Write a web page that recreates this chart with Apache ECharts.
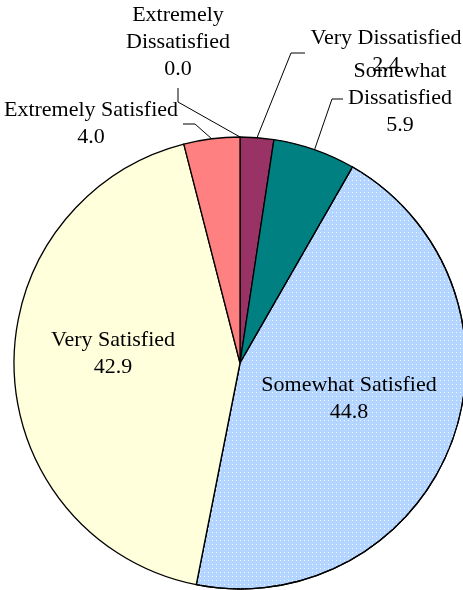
<!DOCTYPE html>
<html>
<head>
<meta charset="utf-8">
<script src="https://cdn.jsdelivr.net/npm/echarts@6/dist/echarts.min.js"></script>
<style>
html, body { margin: 0; padding: 0; background: #fff; }
#pie { width: 463px; height: 590px; }
</style>
</head>
<body>
<div id="pie"></div>
<script>
// satisfaction shares, clockwise from 12 o'clock
const categories = ["Extremely Dissatisfied", "Very Dissatisfied", "Somewhat Dissatisfied", "Somewhat Satisfied", "Very Satisfied", "Extremely Satisfied"];
const values = [0.0, 2.4, 5.9, 44.8, 42.9, 4.0];
const labelNames = ["Extremely\nDissatisfied", "Very Dissatisfied", "Somewhat\nDissatisfied", "Somewhat Satisfied", "Very Satisfied", "Extremely Satisfied"];
const colors = ["#ffffff", "#993366", "#008080", "#b3d5ff", "#ffffdc", "#ff8080"];

// where the label blocks sit and the bends of their leader lines
const labelAt = [[178, 42], [386, 52], [400, 98], [349, 399], [113, 354], [91, 124]];
const elbows = [[[178, 102], [178, 88]], [[291, 53], [305, 53]], [[332, 99], [343, 99]], null, null, [[195, 124], [183, 124]]];
const insideLabel = [false, false, false, true, true, false];

let myChart = echarts.init(document.getElementById("pie"));

let data = [];
for (let i in categories) {
  let item = {
    name: categories[i],
    value: values[i],
    itemStyle: { color: colors[i] },
  };
  if (insideLabel[i]) {
    item.label = { position: "inside" };
    item.labelLine = { show: false };
  }
  if (i == 3) {
    item.itemStyle.decal = {
      symbol: "rect",
      symbolSize: 1,
      color: "rgba(255,255,255,0.85)",
      dashArrayX: [1, 3],
      dashArrayY: [1, 3],
      rotation: 0,
    };
  }
  data.push(item);
}

let option = {
  animation: false,
  series: [
    {
      type: "pie",
      center: [240, 363],
      radius: 226,
      startAngle: 90,
      clockwise: true,
      avoidLabelOverlap: false,
      itemStyle: {
        borderColor: "#000",
        borderWidth: 1.3,
      },
      label: {
        show: true,
        position: "outside",
        fontFamily: "Liberation Serif",
        fontSize: 22,
        lineHeight: 27,
        color: "#000",
        align: "center",
        formatter: function (p) {
          return labelNames[p.dataIndex] + "\n" + p.value.toFixed(1);
        },
      },
      labelLine: {
        show: true,
        lineStyle: { color: "#000", width: 1 },
      },
      labelLayout: function (p) {
        let i = p.dataIndex;
        let out = {
          x: labelAt[i][0],
          y: labelAt[i][1],
          align: "center",
          verticalAlign: "middle",
        };
        if (elbows[i] && p.labelLinePoints) {
          out.labelLinePoints = [p.labelLinePoints[0]].concat(elbows[i]);
        }
        return out;
      },
      emphasis: { disabled: true },
      data: data,
    },
  ],
};
myChart.setOption(option);
</script>
</body>
</html>
